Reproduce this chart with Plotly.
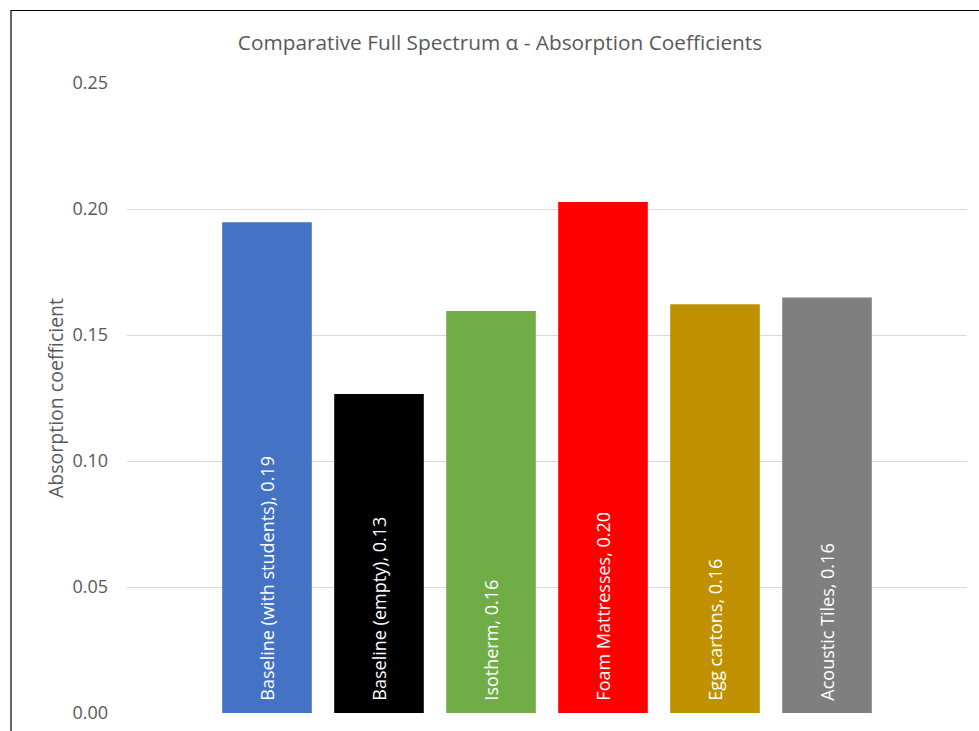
import plotly.graph_objects as go

categories = ["Baseline (with students)", "Baseline (empty)", "Isotherm",
              "Foam Mattresses", "Egg cartons", "Acoustic Tiles"]
values = [0.1947, 0.1266, 0.1595, 0.2028, 0.1622, 0.1649]
colors = ["#4472C4", "#000000", "#70AD47", "#FF0000", "#BF9000", "#7F7F7F"]
y_ticks = [0.00, 0.05, 0.10, 0.15, 0.20, 0.25]

FONT = "Open Sans"
GRAY = "#595959"

labels = ["\u00a0\u00a0" + f"{c}, {v:.2f}" for c, v in zip(categories, values)]

fig = go.Figure()
fig.add_trace(go.Bar(
    x=categories, y=values,
    marker=dict(color=colors, line=dict(width=0)),
    text=labels, textposition="inside", insidetextanchor="start",
    textangle=-90, cliponaxis=False,
    textfont=dict(family=FONT, size=18, color="white"),
    showlegend=False, hoverinfo="skip",
))

L, R, T, B = 127, 12, 83, 18
W, H = 979, 731
pw, ph = W - L - R, H - T - B

def px(x):
    return (x - L) / pw

def py(y):
    return (H - B - y) / ph

fig.add_shape(type="path", xref="paper", yref="paper",
              path=f"M {px(11)} {py(740)} L {px(11)} {py(10.5)} L {px(990)} {py(10.5)}",
              line=dict(color="black", width=1.2))

fig.update_layout(
    width=W, height=H,
    margin=dict(l=L, r=R, t=T, b=B, autoexpand=False),
    paper_bgcolor="white", plot_bgcolor="white",
    bargap=0.2,
    title=dict(text="Comparative Full Spectrum α - Absorption Coefficients",
               xref="container", x=500 / W, xanchor="center",
               yref="container", y=1 - 43 / H, yanchor="middle",
               font=dict(family=FONT, size=20.8, color=GRAY)),
    xaxis=dict(type="category", range=[-1.25, 6.25], showticklabels=False,
               showgrid=False, zeroline=False, showline=False, ticks="",
               automargin=False),
    yaxis=dict(range=[0, 0.25], tickvals=y_ticks, tickformat=".2f",
               showgrid=True, gridcolor="#D9D9D9", gridwidth=1.2,
               zeroline=False, showline=False, ticks="",
               automargin=False,
               ticklabelstandoff=18,
               tickfont=dict(family=FONT, size=18, color=GRAY),
               title=dict(text="Absorption coefficient", standoff=3,
                          font=dict(family=FONT, size=19.5, color=GRAY))),
)

fig.write_html("out.html")
